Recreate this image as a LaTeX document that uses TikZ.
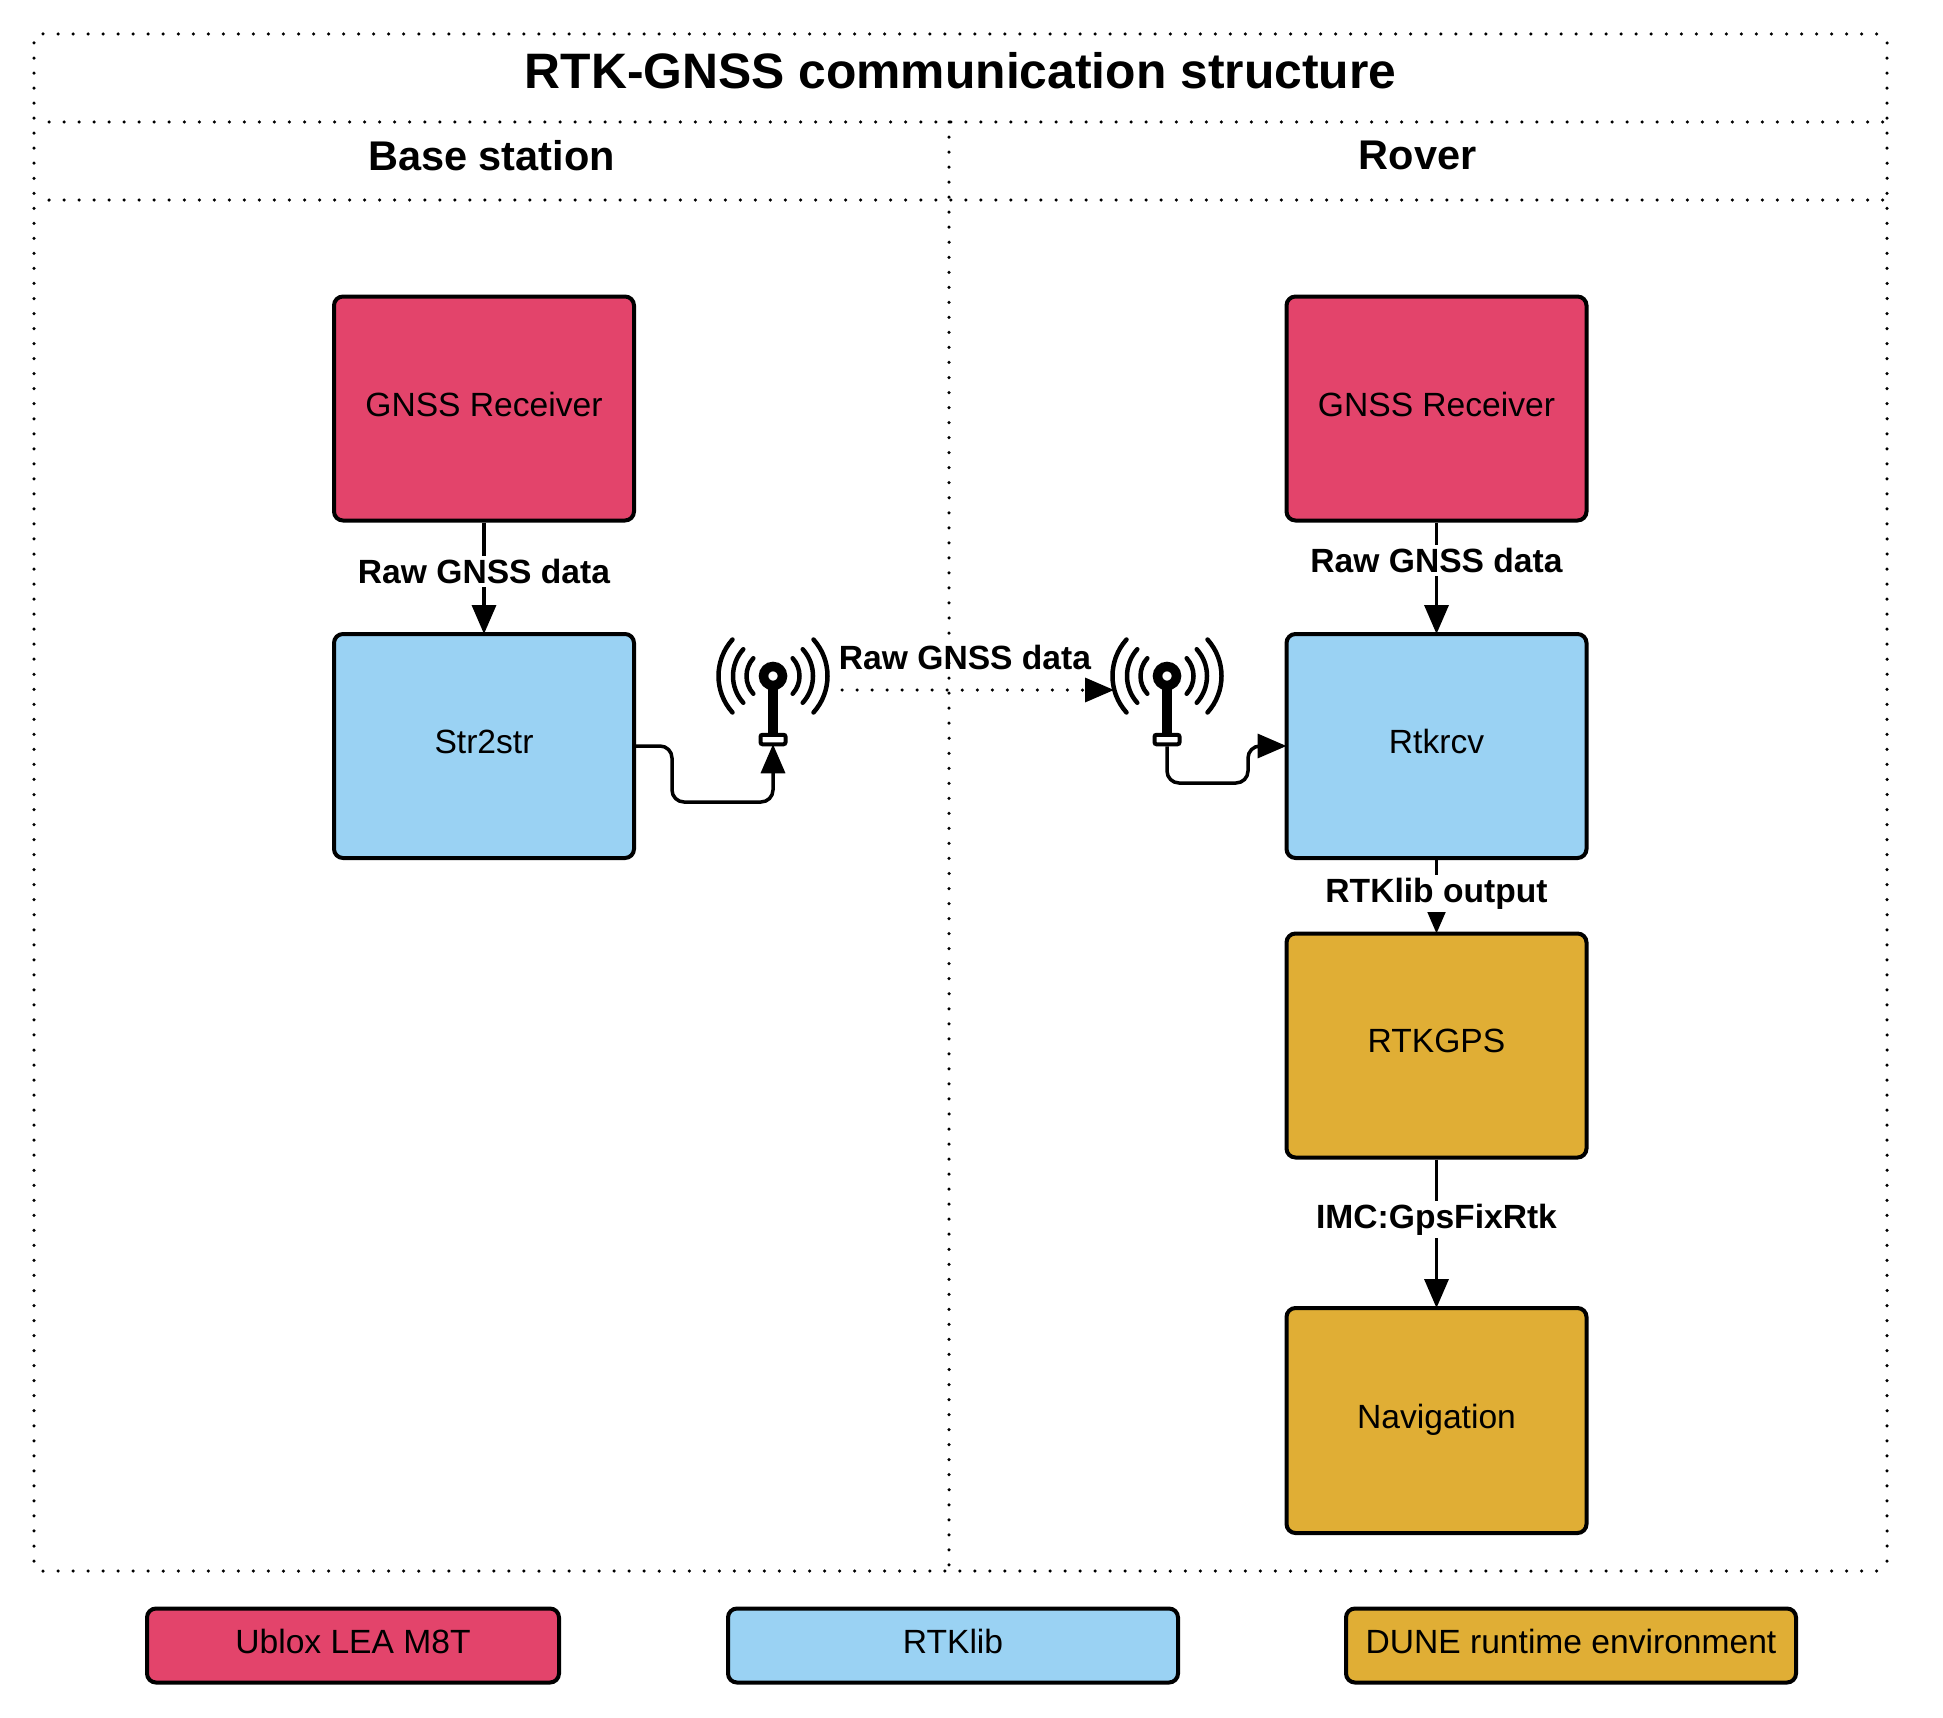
\documentclass[tikz,border=0pt]{standalone}
\usepackage{fontspec}
\setmainfont{Liberation Sans}
\usetikzlibrary{arrows.meta,positioning}
\definecolor{cred}{HTML}{E3446B}
\definecolor{cblue}{HTML}{9AD2F3}
\definecolor{cgold}{HTML}{E0AE35}
\newcommand{\boxtxt}[1]{\raisebox{9pt}{#1}}
\tikzset{
  x=1pt,y=-1pt,
  frame/.style={line width=3.5pt,line cap=round,dash pattern=on 0pt off 15.03pt},
  block/.style={draw=black,line width=4pt,rounded corners=9pt,minimum width=300pt,minimum height=224pt,inner sep=0pt,font=\fontsize{33.6}{40}\selectfont},
  legendbox/.style={draw=black,line width=4pt,rounded corners=9pt,minimum height=74pt,inner sep=0pt,font=\fontsize{33.6}{40}\selectfont},
  flow/.style={line width=3.5pt,shorten >=-2pt,-{Triangle[length=29pt,width=24pt]}},
  wire/.style={flow,rounded corners=12pt},
  radio/.style={flow,line cap=round,dash pattern=on 0pt off 15.03pt},
  edgelabel/.style={fill=white,inner sep=3pt,font=\bfseries\fontsize{33.6}{40}\selectfont},
  heading/.style={font=\bfseries\fontsize{41.5}{50}\selectfont,inner sep=0pt},
  titletext/.style={font=\bfseries\fontsize{49.8}{60}\selectfont,inner sep=0pt},
  wave/.style={line width=4.5pt,line cap=round},
  antenna/.pic={
    \fill[black] (-5,0) rectangle (5,60);
    \draw[line width=9.5pt,draw=black,fill=white] (0,0) circle (9.5pt);
    \node[draw=black,fill=white,line width=4pt,rounded corners=2pt,minimum width=25pt,minimum height=9.5pt,inner sep=0pt] (-base) at (0,63.5) {};
    \foreach \r in {26.5,40,54.5}{
      \draw[wave] (-42:\r pt) arc[start angle=-42,end angle=42,radius=\r pt];
      \draw[wave] (138:\r pt) arc[start angle=138,end angle=222,radius=\r pt];
    }
  }
}
\begin{document}
\begin{tikzpicture}
\useasboundingbox (0,0) rectangle (1943,1718);
% frame
\coordinate (f1) at (43,34); \coordinate (f2) at (1887,34);
\draw[frame] (f1) -- (f2);
\coordinate (f3) at (34,43); \coordinate (f4) at (34,1571);
\draw[frame] (f3) -- (f4);
\coordinate (f5) at (1887,43); \coordinate (f6) at (1887,1571);
\draw[frame] (f5) -- (f6);
\coordinate (f7) at (43,1571); \coordinate (f8) at (1887,1571);
\draw[frame] (f7) -- (f8);
\coordinate (f9) at (49,122); \coordinate (f10) at (1887,122);
\draw[frame] (f9) -- (f10);
\coordinate (f11) at (49,200); \coordinate (f12) at (1887,200);
\draw[frame] (f11) -- (f12);
\coordinate (f13) at (949,122); \coordinate (f14) at (949,1571);
\draw[frame] (f13) -- (f14);
% headings
\node[titletext] (title) at (960.5,71) {RTK-GNSS communication structure};
\node[heading] (hbase) at (491.5,155.5) {Base station};
\node[heading] (hrover) at (1417.5,155.5) {Rover};
% blocks
\node[block,fill=cred] (gl) at (484,408.5) {\boxtxt{GNSS Receiver}};
\node[block,fill=cblue] (str) at (484,746) {\boxtxt{Str2str}};
\node[block,fill=cred] (gr) at (1436.5,408.5) {\boxtxt{GNSS Receiver}};
\node[block,fill=cblue] (rtk) at (1436.5,746) {\boxtxt{Rtkrcv}};
\node[block,fill=cgold] (gps) at (1436.5,1045.5) {\boxtxt{RTKGPS}};
\node[block,fill=cgold,minimum height=225pt] (nav) at (1436.5,1420.5) {\boxtxt{Navigation}};
% legend
\node[legendbox,fill=cred,minimum width=412pt] (l1) at (353,1645.5) {\boxtxt{Ublox LEA M8T}};
\node[legendbox,fill=cblue,minimum width=450pt] (l2) at (953,1645.5) {\boxtxt{RTKlib}};
\node[legendbox,fill=cgold,minimum width=450pt] (l3) at (1571,1645.5) {\boxtxt{DUNE runtime environment}};
% antennas
\pic (al) at (773,676) {antenna};
\pic (ar) at (1167,676) {antenna};
% connectors
\draw[flow] (gl.south) -- (str.north) node[pos=0.45,edgelabel] (e1) {Raw GNSS data};
\draw[flow] (gr.south) -- (rtk.north) node[pos=0.35,edgelabel] (e2) {Raw GNSS data};
\draw[flow] (rtk.south) -- (gps.north) node[pos=0.47,edgelabel] (e3) {RTKlib output};
\draw[flow] (gps.south) -- (nav.north) node[pos=0.41,edgelabel] (e4) {IMC:GpsFixRtk};
\draw[wire] (str.east) -| (672,802) -| (al-base.south);
\draw[wire] (ar-base.south) |- (1248,783) |- (rtk.west);
\coordinate (r1) at (842,690); \coordinate (r2) at (1112,690);
\draw[radio] (r1) -- (r2);
\node[font=\bfseries\fontsize{33.6}{40}\selectfont,inner sep=0pt] (e5) at (965,657) {Raw GNSS data};
\end{tikzpicture}
\end{document}
